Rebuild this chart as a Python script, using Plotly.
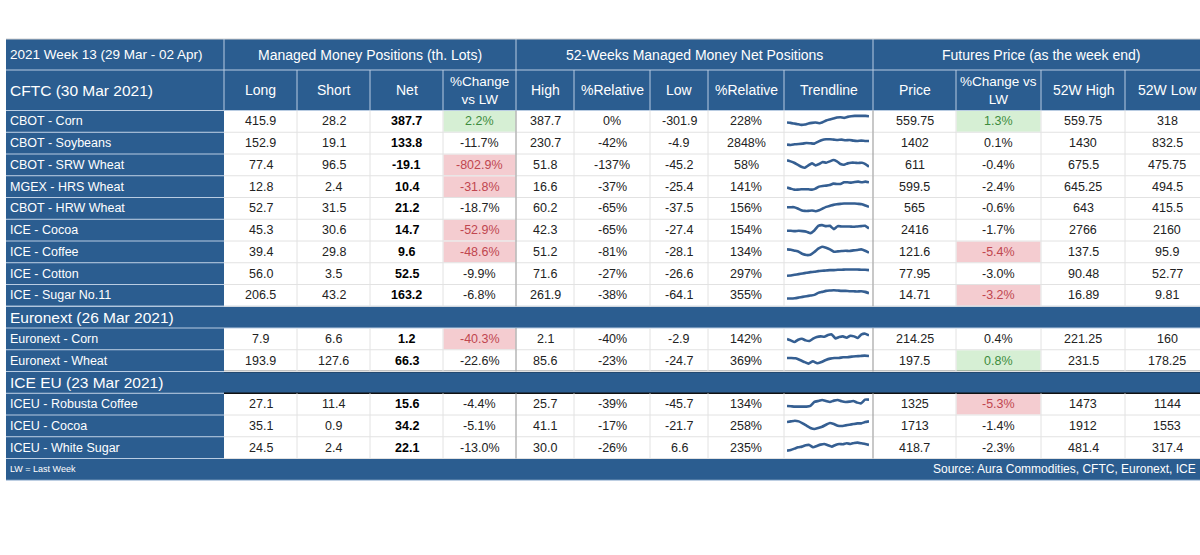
import plotly.graph_objects as go

# ---- data ----
title_text = "2021 Week 13 (29 Mar - 02 Apr)"
group_titles = ["Managed Money Positions (th. Lots)",
                "52-Weeks Managed Money Net Positions",
                "Futures Price (as the week end)"]
column_titles = ["Long", "Short", "Net", "%Change<br>vs LW", "High", "%Relative",
                 "Low", "%Relative", "Trendline", "Price", "%Change vs<br>LW",
                 "52W High", "52W Low"]

sections = ["CFTC (30 Mar 2021)", "Euronext (26 Mar 2021)", "ICE EU (23 Mar 2021)"]
section_sizes = [9, 2, 3]

markets = ["CBOT - Corn", "CBOT - Soybeans", "CBOT - SRW Wheat", "MGEX - HRS Wheat",
           "CBOT - HRW Wheat", "ICE - Cocoa", "ICE - Coffee", "ICE - Cotton",
           "ICE - Sugar No.11", "Euronext - Corn", "Euronext - Wheat",
           "ICEU - Robusta Coffee", "ICEU - Cocoa", "ICEU - White Sugar"]
long_pos = [415.9, 152.9, 77.4, 12.8, 52.7, 45.3, 39.4, 56.0, 206.5, 7.9, 193.9, 27.1, 35.1, 24.5]
short_pos = [28.2, 19.1, 96.5, 2.4, 31.5, 30.6, 29.8, 3.5, 43.2, 6.6, 127.6, 11.4, 0.9, 2.4]
net_pos = [387.7, 133.8, -19.1, 10.4, 21.2, 14.7, 9.6, 52.5, 163.2, 1.2, 66.3, 15.6, 34.2, 22.1]
net_chg = [2.2, -11.7, -802.9, -31.8, -18.7, -52.9, -48.6, -9.9, -6.8, -40.3, -22.6, -4.4, -5.1, -13.0]
high_52w = [387.7, 230.7, 51.8, 16.6, 60.2, 42.3, 51.2, 71.6, 261.9, 2.1, 85.6, 25.7, 41.1, 30.0]
high_rel = [0, -42, -137, -37, -65, -65, -81, -27, -38, -40, -23, -39, -17, -26]
low_52w = [-301.9, -4.9, -45.2, -25.4, -37.5, -27.4, -28.1, -26.6, -64.1, -2.9, -24.7, -45.7, -21.7, 6.6]
low_rel = [228, 2848, 58, 141, 156, 154, 134, 297, 355, 142, 369, 134, 258, 235]
price = [559.75, 1402, 611, 599.5, 565, 2416, 121.6, 77.95, 14.71, 214.25, 197.5, 1325, 1713, 418.7]
price_chg = [1.3, 0.1, -0.4, -2.4, -0.6, -1.7, -5.4, -3.0, -3.2, 0.4, 0.8, -5.3, -1.4, -2.3]
price_high = [559.75, 1430, 675.5, 645.25, 643, 2766, 137.5, 90.48, 16.89, 221.25, 231.5, 1473, 1912, 481.4]
price_low = [318, 832.5, 475.75, 494.5, 415.5, 2160, 95.9, 52.77, 9.81, 160, 178.25, 1144, 1553, 317.4]
net_chg_flag = ["up", "", "down", "down", "", "down", "down", "", "", "down", "", "", "", ""]
price_chg_flag = ["up", "", "", "", "", "", "down", "", "down", "", "up", "down", "", ""]

# sparkline shapes (net positions, relative units)
trend = [
    [12, 11, 9, 7, 5, 6, 9, 11, 12, 10, 13, 18, 21, 24, 27, 28, 26, 29, 31, 32, 32, 32, 32, 31],
    [5, 4, 6, 7, 8, 10, 9, 8, 14, 19, 21, 21, 20, 19, 20, 18, 19, 17, 16, 17, 16, 16],
    [27, 24, 20, 14, 8, 5, 12, 18, 12, 16, 22, 20, 24, 28, 24, 16, 14, 18, 20, 20, 19, 20, 16, 8],
    [13, 10, 7, 7, 8, 8, 8, 7, 10, 16, 18, 19, 21, 25, 24, 24, 29, 29, 28, 30, 31, 29, 31, 29],
    [18, 18, 18, 14, 9, 7, 7, 8, 6, 9, 14, 19, 22, 25, 27, 28, 29, 29, 29, 29, 28, 27, 23, 19],
    [13, 13, 12, 13, 12, 10, 6, 14, 28, 30, 27, 28, 18, 27, 26, 26, 26, 25, 26, 27, 28, 20],
    [22, 21, 18, 15, 8, 5, 6, 14, 24, 30, 27, 22, 15, 16, 17, 18, 17, 19, 20, 22, 18, 12],
    [4, 5, 7, 9, 11, 13, 15, 16, 18, 19, 20, 21, 21, 22, 22, 23, 23, 23, 23, 22, 22, 21],
    [5, 5, 6, 8, 10, 12, 14, 16, 22, 25, 28, 29, 30, 29, 28, 28, 27, 27, 26, 27, 25, 21],
    [14, 10, 5, 12, 15, 10, 8, 15, 20, 22, 21, 26, 28, 16, 20, 22, 18, 24, 22, 17, 28, 30, 25],
    [20, 20, 19, 14, 8, 3, 10, 4, 8, 14, 18, 20, 20, 22, 22, 24, 25, 26, 27, 26],
    [12, 11, 10, 10, 10, 10, 12, 24, 27, 30, 27, 24, 28, 30, 26, 24, 25, 27, 22, 20, 31, 31],
    [26, 28, 30, 28, 22, 15, 8, 5, 8, 12, 18, 23, 20, 15, 14, 16, 18, 20, 22, 22, 26, 28],
    [8, 10, 14, 18, 20, 24, 25, 18, 22, 26, 28, 24, 20, 25, 28, 27, 30, 28, 31, 32, 30, 28, 25],
]

footnote = "LW = Last Week"
source = "Source: Aura Commodities, CFTC, Euronext, ICE"

# ---- look ----
W, H = 1200, 555
FONT = "Liberation Sans"
BLUE = "#2b5d90"
LIGHT = "#b9cce2"
GRID = "#e2e2e2"
SEP = "#a3a3a3"
TEXT = "#222222"
FILL = {"up": "#d6efd4", "down": "#f4ccd0"}
INK = {"up": "#3d8c3d", "down": "#c0464f", "": TEXT}

col_edges = [6, 224, 297, 370, 443, 516, 574, 650, 708, 784, 873, 956, 1041, 1125, 1209]
group_edges = [224, 516, 873]
group_spans = [(1, 5), (5, 10), (10, 14)]
top = 39
head1_h = 31
head2_h = 40.5
row_h = 21.75
left, right = col_edges[0], col_edges[-1]

shapes = []
annotations = []


def add_rect(x0, y0, x1, y1, color):
    shapes.append(dict(type="rect", xref="x", yref="y", x0=x0, y0=y0, x1=x1, y1=y1,
                       fillcolor=color, line=dict(width=0), layer="below"))


def add_line(x0, y0, x1, y1, color, width=1):
    shapes.append(dict(type="line", xref="x", yref="y", x0=x0, y0=y0, x1=x1, y1=y1,
                       line=dict(color=color, width=width)))


def add_text(x, y, s, size=12.5, color=TEXT, anchor="center"):
    annotations.append(dict(x=x, y=y, xref="x", yref="y", text=s, showarrow=False,
                            xanchor=anchor, yanchor="middle", align=anchor,
                            font=dict(family=FONT, size=size, color=color)))


def f1(v):
    return "{:.1f}".format(v)


def pct1(v):
    return "{:.1f}%".format(v)


def pct0(v):
    return "{:d}%".format(v)


def num(v):
    return "{:g}".format(v)


# row positions
head_bottom = top + head1_h + head2_h
y = head_bottom
row_tops = []
section_tops = [top + head1_h]
for s, n in enumerate(section_sizes):
    if s > 0:
        section_tops.append(y)
        y += row_h
    for r in range(n):
        row_tops.append(y)
        y += row_h
footer_top = y

# header block
add_rect(left, top, right, head_bottom, BLUE)
add_line(left, top, right, top, "#d0d0d0", 1)
add_line(left, top + head1_h, right, top + head1_h, LIGHT)
add_line(left, head_bottom, right, head_bottom, LIGHT)
for x in group_edges:
    add_line(x, top, x, top + head1_h, LIGHT)
for x in col_edges[1:-1]:
    add_line(x, top + head1_h, x, head_bottom, LIGHT)

add_text(left + 2, top + head1_h / 2, title_text, 13.5, "white", "left")
for (a, b), g in zip(group_spans, group_titles):
    add_text((col_edges[a] + col_edges[b]) / 2, top + head1_h / 2, g, 14, "white")
for c, t in enumerate(column_titles):
    add_text((col_edges[c + 1] + col_edges[c + 2]) / 2, top + head1_h + head2_h / 2,
             t, 14 if "<br>" not in t else 13.5, "white")

# section title rows
for s, yt in enumerate(section_tops):
    add_text(left + 2, yt + (head2_h if s == 0 else row_h) / 2, sections[s], 15.5, "white", "left")
    if s == 0:
        continue
    add_rect(left, yt, right, yt + row_h, BLUE)
    edge = "#111111" if s == 2 else LIGHT
    add_line(left, yt, col_edges[1], yt, LIGHT)
    add_line(left, yt + row_h, col_edges[1], yt + row_h, LIGHT)
    add_line(col_edges[1], yt, right, yt, edge, 1.5 if s == 2 else 1)
    add_line(col_edges[1], yt + row_h, right, yt + row_h, edge, 1.5 if s == 2 else 1)

# market rows
columns = [
    [f1(v) for v in long_pos],
    [f1(v) for v in short_pos],
    ["<b>" + f1(v) + "</b>" for v in net_pos],
    [pct1(v) for v in net_chg],
    [f1(v) for v in high_52w],
    [pct0(v) for v in high_rel],
    [f1(v) for v in low_52w],
    [pct0(v) for v in low_rel],
    None,
    [num(v) for v in price],
    [pct1(v) for v in price_chg],
    [num(v) for v in price_high],
    [num(v) for v in price_low],
]
flags = {3: net_chg_flag, 10: price_chg_flag}

for i, yt in enumerate(row_tops):
    yb = yt + row_h
    cy = yt + row_h / 2
    add_rect(left, yt, col_edges[1], yb, BLUE)
    add_line(left, yb, col_edges[1], yb, LIGHT)
    add_line(col_edges[1], yb, right, yb, GRID)
    add_text(left + 2, cy, markets[i], 12.5, "white", "left")
    for c, vals in enumerate(columns):
        x0, x1 = col_edges[c + 1], col_edges[c + 2]
        if vals is None:
            continue
        flag = flags[c][i] if c in flags else ""
        if flag:
            add_rect(x0 + 0.5, yt + 0.5, x1 - 0.5, yb - 0.5, FILL[flag])
        add_text((x0 + x1) / 2, cy, vals[i], 12.5, "#000000" if c == 2 else INK[flag])
    for x in col_edges[2:-1]:
        sep = x in group_edges
        add_line(x, yt, x, yb, SEP if sep else GRID, 1.2 if sep else 1)

# footer
add_rect(left, footer_top, right, footer_top + row_h, BLUE)
add_line(left, footer_top + row_h, right, footer_top + row_h, LIGHT)
add_text(left + 2, footer_top + row_h / 2, footnote, 9, "white", "left")
add_text(W - 2, footer_top + row_h / 2, source, 12, "white", "right")

# ---- figure ----
fig = go.Figure()
fig.add_trace(go.Scatter(x=[0], y=[0], mode="markers", marker=dict(opacity=0),
                         hoverinfo="skip", showlegend=False))

layout_axes = {}
spark_x0, spark_x1 = 787, 869
for i, vals in enumerate(trend):
    k = i + 2
    fig.add_trace(go.Scatter(x=list(range(len(vals))), y=vals, xaxis="x%d" % k, yaxis="y%d" % k,
                             mode="lines", line=dict(color="#355f92", width=2.6, shape="spline",
                                                     smoothing=0.4),
                             hoverinfo="skip", showlegend=False))
    cy = row_tops[i] + row_h / 2 - 1
    mid = (min(vals) + max(vals)) / 2
    layout_axes["xaxis%d" % k] = dict(domain=[spark_x0 / W, spark_x1 / W], range=[0, len(vals) - 1],
                                      visible=False, fixedrange=True, anchor="y%d" % k)
    layout_axes["yaxis%d" % k] = dict(domain=[1 - (cy + 7) / H, 1 - (cy - 7) / H],
                                      range=[mid - 21, mid + 21], visible=False, fixedrange=True,
                                      anchor="x%d" % k)

fig.update_layout(
    width=W, height=H,
    margin=dict(l=0, r=0, t=0, b=0),
    paper_bgcolor="white", plot_bgcolor="white",
    xaxis=dict(range=[0, W], visible=False, fixedrange=True),
    yaxis=dict(range=[H, 0], visible=False, fixedrange=True),
    shapes=shapes, annotations=annotations,
    showlegend=False,
    **layout_axes
)

# page margin off so the figure sits at the window corner
fig.write_html("out.html", config={"displayModeBar": False},
               post_script="document.body.style.margin = '0';"
                           "document.body.style.overflow = 'hidden';")
